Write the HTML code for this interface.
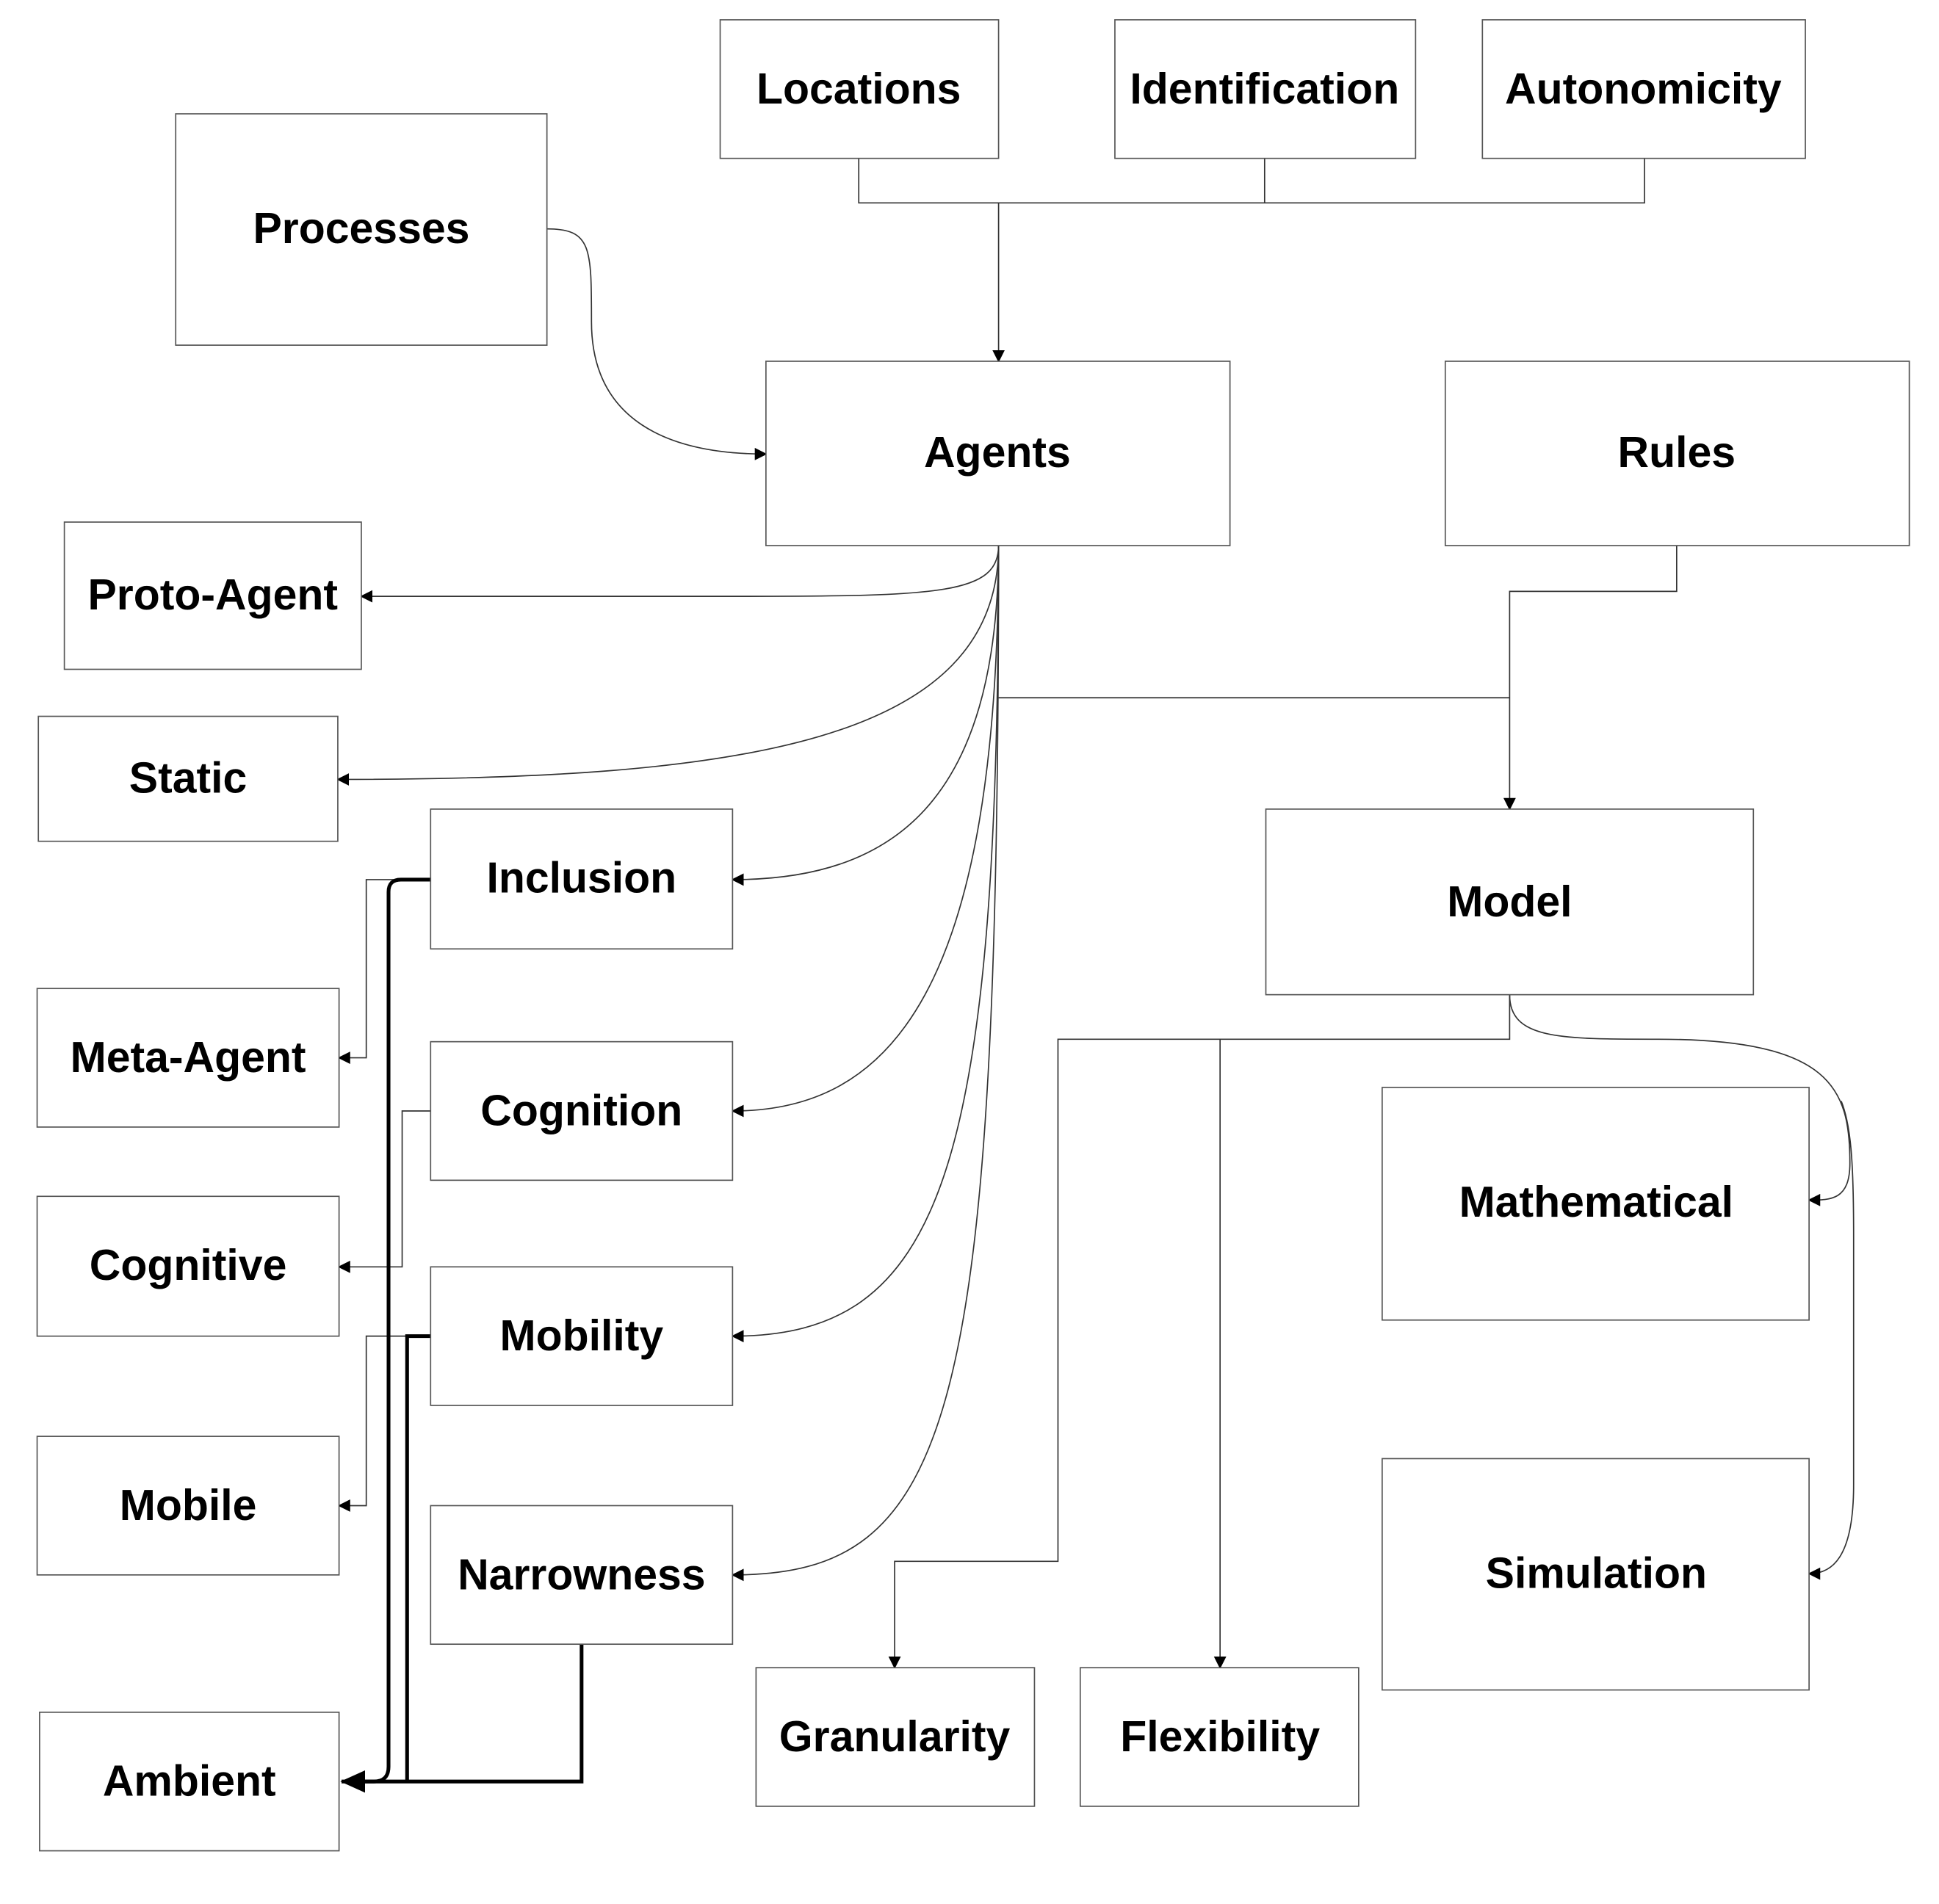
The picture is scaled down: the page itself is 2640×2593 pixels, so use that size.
<!DOCTYPE html>
<html><head><meta charset="utf-8"><style>
html,body{margin:0;padding:0;background:#fff;}
svg{display:block;}
text{font-family:"Liberation Sans",Arial,sans-serif;font-weight:bold;font-size:35px;fill:#000;text-anchor:middle;dominant-baseline:central;}
.b{fill:#fff;stroke:#555;stroke-width:1;}
.c{fill:none;stroke:#333;stroke-width:1;}
.t{fill:none;stroke:#000;stroke-width:3;}
</style></head><body>
<svg width="2640" height="2593" viewBox="0 0 1567 1539" preserveAspectRatio="none" xmlns="http://www.w3.org/2000/svg">
<defs>
<marker id="a" markerWidth="10" markerHeight="10" refX="9" refY="5" orient="auto" markerUnits="userSpaceOnUse"><path d="M0,0 L10,5 L0,10z" fill="#000"/></marker>
<marker id="A" markerWidth="20" markerHeight="18" refX="19" refY="9" orient="auto" markerUnits="userSpaceOnUse"><path d="M0,0 L20,9 L0,18z" fill="#000"/></marker>
</defs>
<g class="c">
<path d="M694,128 V164 H1329 V128 M1022,128 V164"/>
<path d="M807,164 V292" marker-end="url(#a)"/>
<path d="M442,185 C478,185 478,200 478,260 C478,340 540,367 619,367" marker-end="url(#a)"/>
<path d="M807,441 C807,480 760,482 600,482 L292,482" marker-end="url(#a)"/>
<path d="M807,441 C807,600 600,630 273,630" marker-end="url(#a)"/>
<path d="M807,441 C807,650 720,711 592,711" marker-end="url(#a)"/>
<path d="M807,441 C807,800 720,898 592,898" marker-end="url(#a)"/>
<path d="M807,441 C807,950 760,1080 592,1080" marker-end="url(#a)"/>
<path d="M807,441 C807,1150 770,1273 592,1273" marker-end="url(#a)"/>
<path d="M807,564 H1220"/>
<path d="M1355,441 V478 H1220 V654" marker-end="url(#a)"/>
<path d="M1220,804 V840 H855 V1262 H723 V1348" marker-end="url(#a)"/>
<path d="M986,840 V1348" marker-end="url(#a)"/>
<path d="M1220,804 C1220,840 1260,840 1340,840 C1480,840 1495,880 1495,940 C1495,970 1480,970 1462,970" marker-end="url(#a)"/>
<path d="M1488,890 C1496,910 1498,940 1498,1000 L1498,1200 C1498,1260 1480,1272 1462,1272" marker-end="url(#a)"/>
<path d="M348,711 H296 V855 H274" marker-end="url(#a)"/>
<path d="M348,898 H325 V1024 H274" marker-end="url(#a)"/>
<path d="M348,1080 H296 V1217 H274" marker-end="url(#a)"/>
</g>
<g class="t">
<path d="M348,711 H324 Q314,711 314,721 V1428 Q314,1440 302,1440 H276" marker-end="url(#A)"/>
<path d="M348,1080 H329 V1440"/>
<path d="M470,1329 V1440 H290"/>
</g>
<g>
<rect class="b" x="582" y="16" width="225" height="112"/><text x="694" y="72">Locations</text>
<rect class="b" x="901" y="16" width="243" height="112"/><text x="1022" y="72">Identification</text>
<rect class="b" x="1198" y="16" width="261" height="112"/><text x="1328" y="72">Autonomicity</text>
<rect class="b" x="142" y="92" width="300" height="187"/><text x="292" y="185">Processes</text>
<rect class="b" x="619" y="292" width="375" height="149"/><text x="806" y="366">Agents</text>
<rect class="b" x="1168" y="292" width="375" height="149"/><text x="1355" y="366">Rules</text>
<rect class="b" x="52" y="422" width="240" height="119"/><text x="172" y="481">Proto-Agent</text>
<rect class="b" x="31" y="579" width="242" height="101"/><text x="152" y="629">Static</text>
<rect class="b" x="348" y="654" width="244" height="113"/><text x="470" y="710">Inclusion</text>
<rect class="b" x="1023" y="654" width="394" height="150"/><text x="1220" y="729">Model</text>
<rect class="b" x="30" y="799" width="244" height="112"/><text x="152" y="855">Meta-Agent</text>
<rect class="b" x="348" y="842" width="244" height="112"/><text x="470" y="898">Cognition</text>
<rect class="b" x="1117" y="879" width="345" height="188"/><text x="1290" y="972">Mathematical</text>
<rect class="b" x="30" y="967" width="244" height="113"/><text x="152" y="1023">Cognitive</text>
<rect class="b" x="348" y="1024" width="244" height="112"/><text x="470" y="1080">Mobility</text>
<rect class="b" x="30" y="1161" width="244" height="112"/><text x="152" y="1217">Mobile</text>
<rect class="b" x="348" y="1217" width="244" height="112"/><text x="470" y="1273">Narrowness</text>
<rect class="b" x="1117" y="1179" width="345" height="187"/><text x="1290" y="1272">Simulation</text>
<rect class="b" x="611" y="1348" width="225" height="112"/><text x="723" y="1404">Granularity</text>
<rect class="b" x="873" y="1348" width="225" height="112"/><text x="986" y="1404">Flexibility</text>
<rect class="b" x="32" y="1384" width="242" height="112"/><text x="153" y="1440">Ambient</text>
</g>
</svg>
</body></html>
